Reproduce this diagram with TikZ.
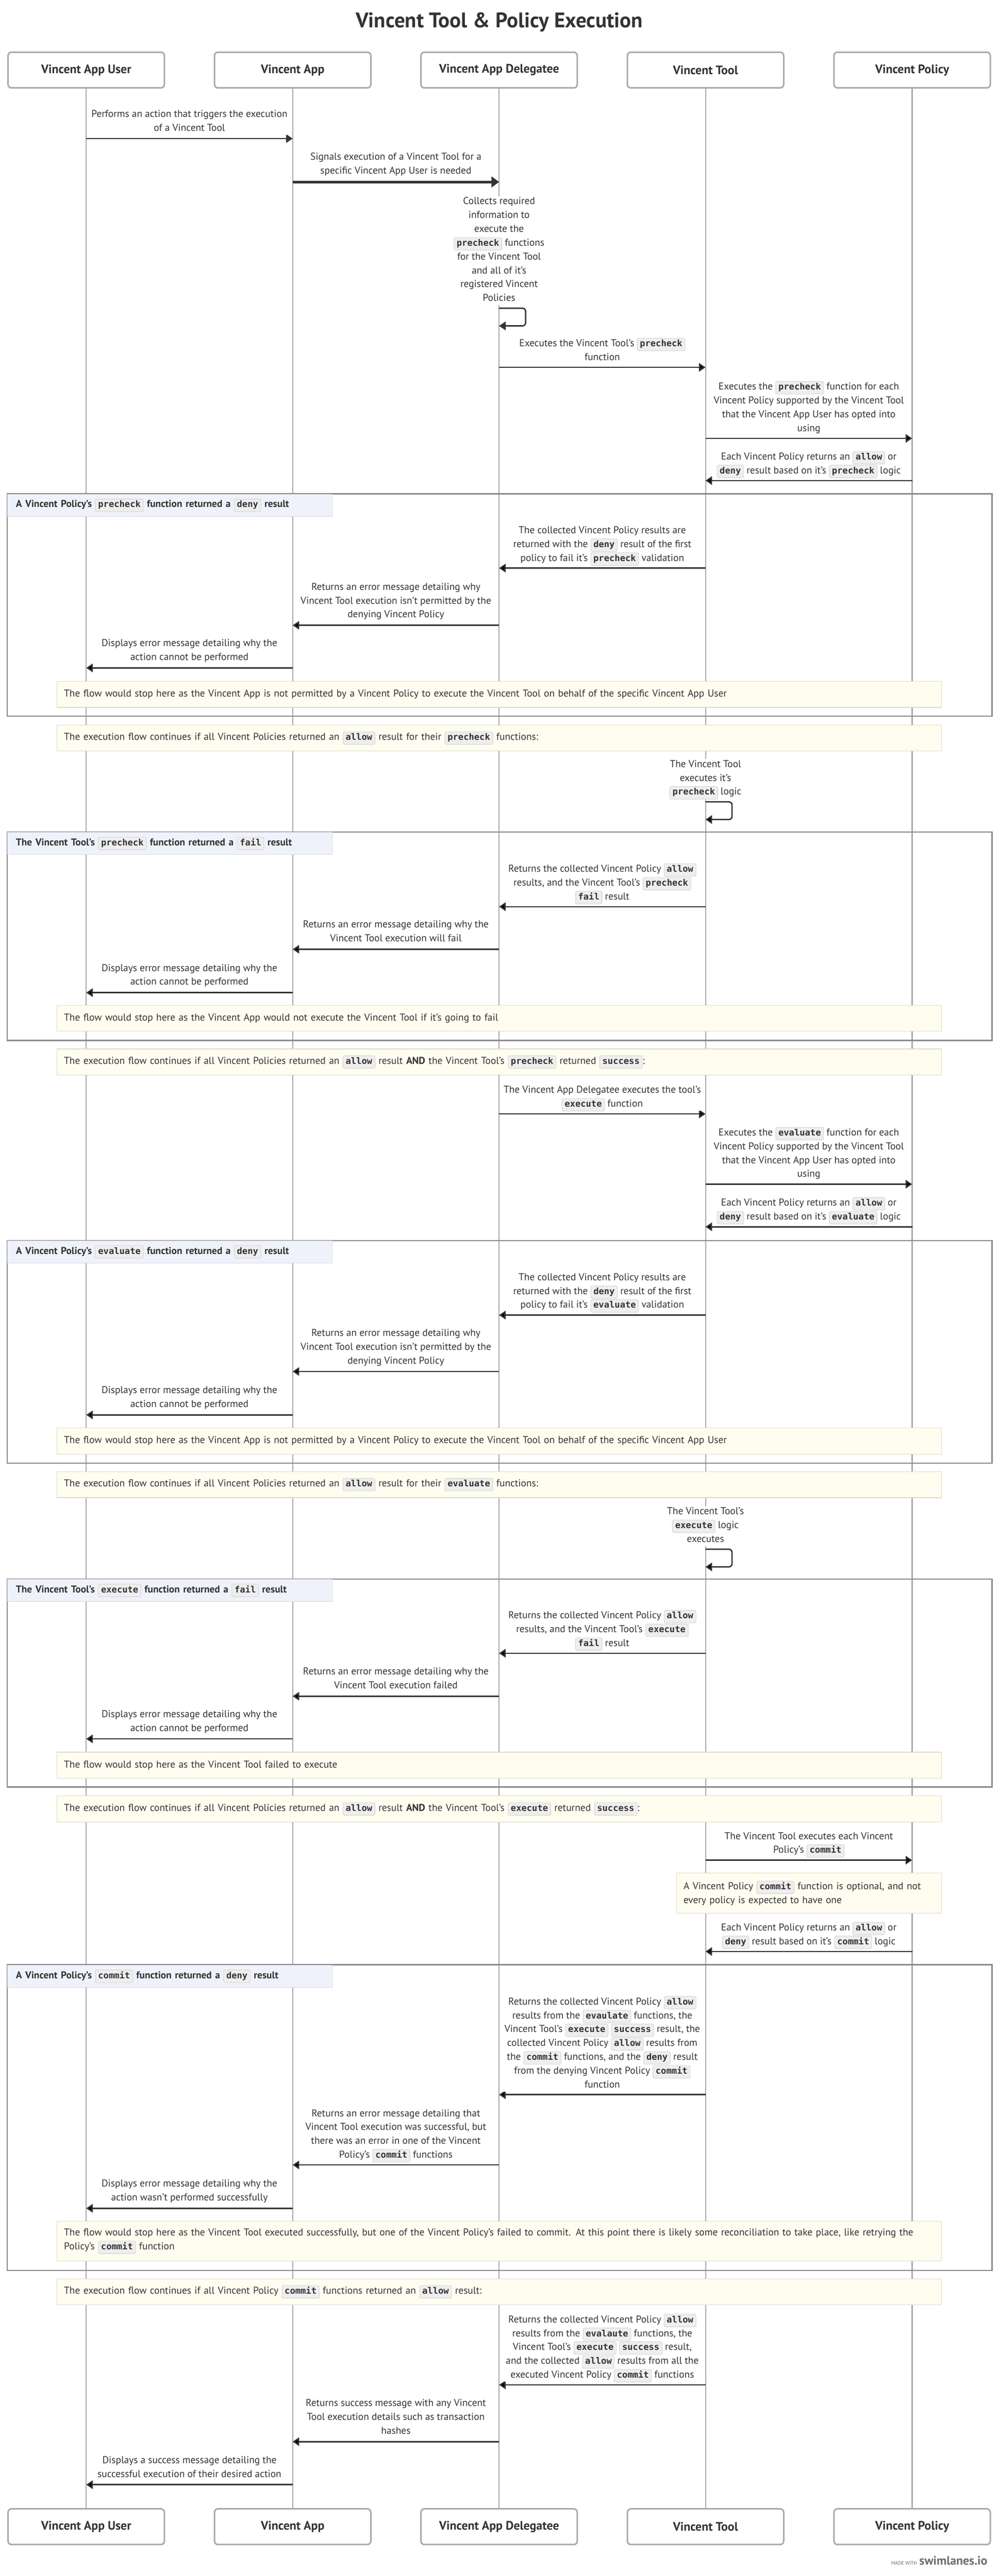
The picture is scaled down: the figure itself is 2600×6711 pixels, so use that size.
\documentclass[tikz,border=0pt]{standalone}
\usepackage{fontspec}
\setmainfont{PT Sans}
\setmonofont{DejaVu Sans Mono}
\usetikzlibrary{arrows.meta}

\definecolor{ink}{HTML}{333333}
\definecolor{lane}{HTML}{AAAAAA}
\definecolor{frame}{HTML}{8A8A8A}
\definecolor{lblfill}{HTML}{EFF2FA}
\definecolor{lbledge}{HTML}{D6DBE7}
\definecolor{notefill}{HTML}{FEFDEF}
\definecolor{noteedge}{HTML}{DDDCC8}
\definecolor{chipfill}{HTML}{EEEEEE}
\definecolor{chipedge}{HTML}{D2D2D2}
\definecolor{logo}{HTML}{6E6E6E}

\newcommand{\bodyfont}{\fontsize{26}{36}\selectfont}

\tikzset{
  actor/.style={draw=lane, line width=4pt, rounded corners=9pt, fill=white, text=ink,
    minimum width=407pt, minimum height=93pt, font=\fontsize{32}{36}\selectfont\bfseries},
  lifeline/.style={draw=lane, line width=3pt},
  msgline/.style={draw=ink, line width=3.5pt, -{Triangle[length=17pt,width=22pt]}},
  boldline/.style={draw=ink, line width=7pt, -{Triangle[length=20pt,width=28pt]}},
  msgtext/.style={fill=white, text=ink, align=center, inner sep=3pt, text depth=7pt, font=\bodyfont},
  grpframe/.style={draw=frame, line width=3.5pt, anchor=north west, minimum width=2564pt, inner sep=0pt},
  grplabel/.style={anchor=north west, fill=lblfill, draw=lbledge, line width=1.5pt, text=ink,
    minimum width=846pt, minimum height=58pt, text width=802pt, inner xsep=22pt, align=left,
    font=\bodyfont\bfseries},
  flow/.style={anchor=north west, fill=notefill, draw=noteedge, line width=1.5pt, text=ink,
    minimum height=68pt, text width=2267pt, inner xsep=18pt, align=left, font=\bodyfont},
  chip/.style={draw=chipedge, fill=chipfill, line width=1.2pt, rounded corners=4pt, text=ink,
    inner xsep=7pt, inner ysep=6pt, text height=16pt, text depth=5pt, text width=, align=center,
    minimum width=0pt, minimum height=0pt, font=\fontsize{23}{23}\selectfont\ttfamily\bfseries}
}

\newcommand{\code}[1]{\tikz[baseline=(chip.base)]\node[chip] (chip) {#1};}
\newcommand{\lcode}[1]{\tikz[baseline=(chip.base)]\node[chip, font=\fontsize{23}{23}\selectfont\ttfamily] (chip) {#1};}

\newcommand{\msg}[6][msgline]{%
  \coordinate (#2a) at (#3 |- 0,#5);
  \coordinate (#2b) at (#4 |- 0,#5);
  \draw[#1] (#2a) -- (#2b) node[midway, above=8pt, msgtext] (#2) {#6};
}
\newcommand{\selfmsg}[4]{%
  \coordinate (#1a) at (#2 |- 0,#3);
  \coordinate (#1b) at (#2 |- 0,#3+46);
  \draw[msgline, rounded corners=8pt] (#1a) -- ++(69,0) -- ++(0,46) -- (#1b);
  \node[msgtext, above=8pt] (#1) at (#1a) {#4};
}
\newcommand{\grp}[4]{%
  \node[grpframe, minimum height=#3pt] (#1) at (17,#2) {};
  \node[grplabel] (#1l) at (18.75,#2+1.75) {#4};
}
\newcommand{\flownote}[3]{\node[flow] (#1) at (148,#2) {#3};}

\begin{document}
\begin{tikzpicture}[x=1pt,y=-1pt]
\path[use as bounding box, fill=white] (0,0) rectangle (2600,6711);

\node[text=ink, font=\fontsize{55}{60}\selectfont\bfseries] (title) at (1300,58) {Vincent Tool \& Policy Execution};

\node[actor] (user) at (224.5,182.5) {Vincent App User};
\node[actor] (app) at (762,182.5) {Vincent App};
\node[actor] (dlg) at (1299.5,182.5) {Vincent App Delegatee};
\node[actor] (tool) at (1837,182.5) {Vincent Tool};
\node[actor] (pol) at (2375,182.5) {Vincent Policy};

\node[actor] (user2) at (224.5,6582.5) {Vincent App User};
\node[actor] (app2) at (762,6582.5) {Vincent App};
\node[actor] (dlg2) at (1299.5,6582.5) {Vincent App Delegatee};
\node[actor] (tool2) at (1837,6582.5) {Vincent Tool};
\node[actor] (pol2) at (2375,6582.5) {Vincent Policy};

\foreach \p in {user,app,dlg,tool,pol}
  \draw[lifeline] (\p.south) -- (\p2.north);

\msg{m1}{user}{app}{361}{Performs an action that triggers the execution\\of a Vincent Tool}
\msg[boldline]{m2}{app}{dlg}{474}{Signals execution of a Vincent Tool for a\\specific Vincent App User is needed}
\selfmsg{s1}{dlg}{803}{Collects required\\information to\\execute the\\\code{precheck} functions\\for the Vincent Tool\\and all of it's\\registered Vincent\\Policies}
\msg{m3}{dlg}{tool}{957}{Executes the Vincent Tool's \code{precheck}\\function}
\msg{m4}{tool}{pol}{1142}{Executes the \code{precheck} function for each\\Vincent Policy supported by the Vincent Tool\\that the Vincent App User has opted into\\using}
\msg{m5}{pol}{tool}{1252}{Each Vincent Policy returns an \code{allow} or\\\code{deny} result based on it's \code{precheck} logic}

\grp{g1}{1285}{579}{A Vincent Policy's \lcode{precheck} function returned a \lcode{deny} result}
\msg{m6}{tool}{dlg}{1480}{The collected Vincent Policy results are\\returned with the \code{deny} result of the first\\policy to fail it's \code{precheck} validation}
\msg{m7}{dlg}{app}{1629}{Returns an error message detailing why\\Vincent Tool execution isn't permitted by the\\denying Vincent Policy}
\msg{m8}{app}{user}{1740}{Displays error message detailing why the\\action cannot be performed}
\flownote{n1}{1774}{The flow would stop here as the Vincent App is not permitted by a Vincent Policy to execute the Vincent Tool on behalf of the specific Vincent App User}

\flownote{n2}{1888}{The execution flow continues if all Vincent Policies returned an \code{allow} result for their \code{precheck} functions:}
\selfmsg{s2}{tool}{2089}{The Vincent Tool\\executes it's\\\code{precheck} logic}

\grp{g2}{2166}{543}{The Vincent Tool's \lcode{precheck} function returned a \lcode{fail} result}
\msg{m9}{tool}{dlg}{2362}{Returns the collected Vincent Policy \code{allow}\\results, and the Vincent Tool's \code{precheck}\\\code{fail} result}
\msg{m10}{dlg}{app}{2473}{Returns an error message detailing why the\\Vincent Tool execution will fail}
\msg{m11}{app}{user}{2586}{Displays error message detailing why the\\action cannot be performed}
\flownote{n3}{2618}{The flow would stop here as the Vincent App would not execute the Vincent Tool if it's going to fail}

\flownote{n4}{2732}{The execution flow continues if all Vincent Policies returned an \code{allow} result \textbf{AND} the Vincent Tool's \code{precheck} returned \code{success}:}
\msg{m12}{dlg}{tool}{2902}{The Vincent App Delegatee executes the tool's\\\code{execute} function}
\msg{m13}{tool}{pol}{3085}{Executes the \code{evaluate} function for each\\Vincent Policy supported by the Vincent Tool\\that the Vincent App User has opted into\\using}
\msg{m14}{pol}{tool}{3196}{Each Vincent Policy returns an \code{allow} or\\\code{deny} result based on it's \code{evaluate} logic}

\grp{g3}{3230}{580}{A Vincent Policy's \lcode{evaluate} function returned a \lcode{deny} result}
\msg{m15}{tool}{dlg}{3426}{The collected Vincent Policy results are\\returned with the \code{deny} result of the first\\policy to fail it's \code{evaluate} validation}
\msg{m16}{dlg}{app}{3573}{Returns an error message detailing why\\Vincent Tool execution isn't permitted by the\\denying Vincent Policy}
\msg{m17}{app}{user}{3686}{Displays error message detailing why the\\action cannot be performed}
\flownote{n5}{3719}{The flow would stop here as the Vincent App is not permitted by a Vincent Policy to execute the Vincent Tool on behalf of the specific Vincent App User}

\flownote{n6}{3833}{The execution flow continues if all Vincent Policies returned an \code{allow} result for their \code{evaluate} functions:}
\selfmsg{s3}{tool}{4036}{The Vincent Tool's\\\code{execute} logic\\executes}

\grp{g4}{4112}{542}{The Vincent Tool's \lcode{execute} function returned a \lcode{fail} result}
\msg{m18}{tool}{dlg}{4307}{Returns the collected Vincent Policy \code{allow}\\results, and the Vincent Tool's \code{execute}\\\code{fail} result}
\msg{m19}{dlg}{app}{4419}{Returns an error message detailing why the\\Vincent Tool execution failed}
\msg{m20}{app}{user}{4530}{Displays error message detailing why the\\action cannot be performed}
\flownote{n7}{4564}{The flow would stop here as the Vincent Tool failed to execute}

\flownote{n8}{4678}{The execution flow continues if all Vincent Policies returned an \code{allow} result \textbf{AND} the Vincent Tool's \code{execute} returned \code{success}:}
\msg{m21}{tool}{pol}{4846}{The Vincent Tool executes each Vincent\\Policy's \code{commit}}
\node[flow, text width=654pt, minimum height=104pt] (n9) at (1761,4879) {A Vincent Policy \code{commit} function is optional, and not\\every policy is expected to have one};
\msg{m22}{pol}{tool}{5084}{Each Vincent Policy returns an \code{allow} or\\\code{deny} result based on it's \code{commit} logic}

\grp{g5}{5117}{796}{A Vincent Policy's \lcode{commit} function returned a \lcode{deny} result}
\msg{m23}{tool}{dlg}{5457}{Returns the collected Vincent Policy \code{allow}\\results from the \code{evaulate} functions, the\\Vincent Tool's \code{execute} \code{success} result, the\\collected Vincent Policy \code{allow} results from\\the \code{commit} functions, and the \code{deny} result\\from the denying Vincent Policy \code{commit}\\function}
\msg{m24}{dlg}{app}{5640}{Returns an error message detailing that\\Vincent Tool execution was successful, but\\there was an error in one of the Vincent\\Policy's \code{commit} functions}
\msg{m25}{app}{user}{5753}{Displays error message detailing why the\\action wasn't performed successfully}
\node[flow, minimum height=104pt] (n10) at (148,5786) {\mbox{The flow would stop here as the Vincent Tool executed successfully, but one of the Vincent Policy's failed to commit. At this point there is likely some reconciliation to take place, like retrying the}\\Policy's \code{commit} function};

\flownote{n11}{5936}{The execution flow continues if all Vincent Policy \code{commit} functions returned an \code{allow} result:}
\msg{m26}{tool}{dlg}{6213}{Returns the collected Vincent Policy \code{allow}\\results from the \code{evalaute} functions, the\\Vincent Tool's \code{execute} \code{success} result,\\and the collected \code{allow} results from all the\\executed Vincent Policy \code{commit} functions}
\msg{m27}{dlg}{app}{6361}{Returns success message with any Vincent\\Tool execution details such as transaction\\hashes}
\msg{m28}{app}{user}{6473}{Displays a success message detailing the\\successful execution of their desired action}

\node[anchor=base east, text=logo, inner sep=0pt] (brand) at (2571,6682) {{\fontsize{13}{13}\selectfont MADE WITH}\hspace{6pt}{\fontsize{32}{32}\selectfont\bfseries swimlanes.io}};
\end{tikzpicture}
\end{document}
